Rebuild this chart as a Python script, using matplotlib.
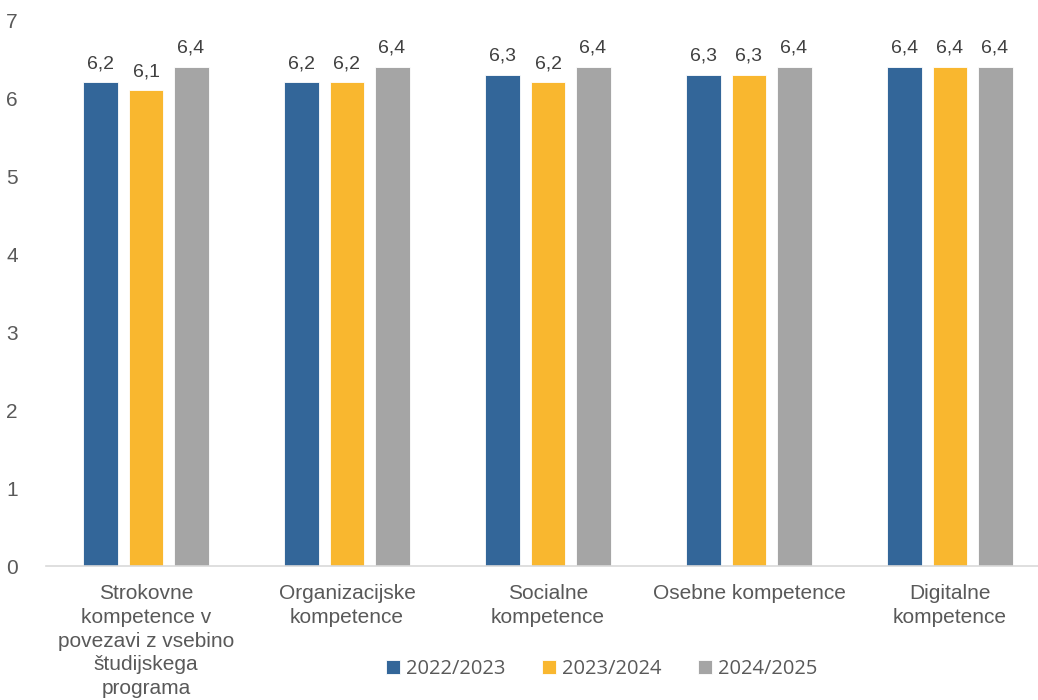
import matplotlib
matplotlib.use("Agg")
import matplotlib.pyplot as plt
import numpy as np

categories = [
    "Strokovne\nkompetence v\npovezavi z vsebino\nštudijskega\nprograma",
    "Organizacijske\nkompetence",
    "Socialne\nkompetence",
    "Osebne kompetence",
    "Digitalne\nkompetence",
]
series_names = ["2022/2023", "2023/2024", "2024/2025"]
vals_2022 = [6.2, 6.2, 6.3, 6.3, 6.4]
vals_2023 = [6.1, 6.2, 6.2, 6.3, 6.4]
vals_2024 = [6.4, 6.4, 6.4, 6.4, 6.4]
colors = ["#336699", "#F9B72F", "#A5A5A5"]

txt = "#595959"
plt.rcParams["font.family"] = ["Liberation Sans", "DejaVu Sans"]

fig = plt.figure(figsize=(10.38, 7), dpi=100)
ax = fig.add_axes([45.5 / 1038, 134 / 700, 1005 / 1038, 546 / 700])

x = np.arange(len(categories))
w = 0.174
step = 0.224
for i, (name, vals) in enumerate(zip(series_names, [vals_2022, vals_2023, vals_2024])):
    pos = x + (i - 1) * step
    bars = ax.bar(pos, vals, width=w, color=colors[i], label=name,
                  edgecolor="white", linewidth=0.6)
    for b, v in zip(bars, vals):
        ax.text(b.get_x() + b.get_width() / 2, v + 0.13, f"{v:.1f}".replace(".", ","),
                ha="center", va="bottom", fontsize=14, color="#404040")

ax.set_xlim(-0.5, len(categories) - 0.5)
ax.set_ylim(0, 7)
ax.set_yticks(range(8))
ax.tick_params(axis="y", length=0, labelsize=15, labelcolor=txt, pad=20)
ax.set_xticks(x)
ax.set_xticklabels(categories, fontsize=15, color=txt, linespacing=1.32)
ax.tick_params(axis="x", length=0, pad=13)
for s in ["top", "right", "left"]:
    ax.spines[s].set_visible(False)
ax.spines["bottom"].set_color("#D9D9D9")
ax.spines["bottom"].set_linewidth(1.2)

leg = fig.legend(loc="center", bbox_to_anchor=(602 / 1038, 1 - 669 / 700), ncol=3,
                 frameon=False, prop={"family": "Open Sans", "size": 14.5},
                 handlelength=0.7, handleheight=0.7, handletextpad=0.3,
                 columnspacing=1.8)
for t in leg.get_texts():
    t.set_color(txt)

fig.savefig("out.png", dpi=100)
